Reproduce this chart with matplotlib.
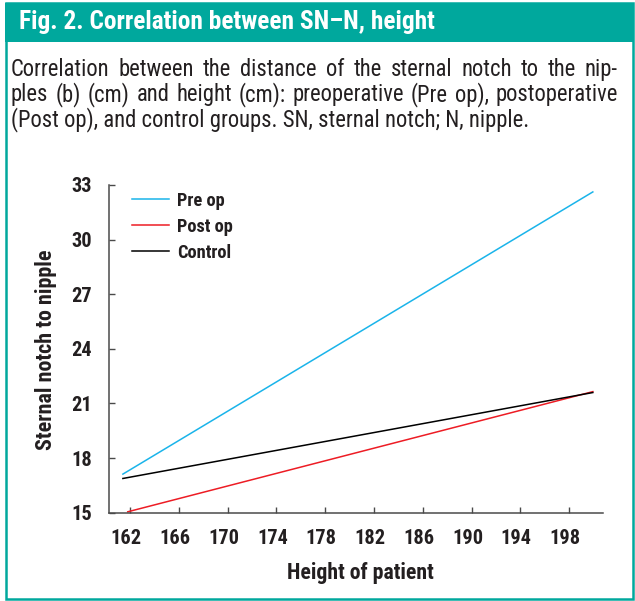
import matplotlib
matplotlib.use("Agg")
import matplotlib.pyplot as plt
from matplotlib import font_manager as fm
from matplotlib.patches import Rectangle
import matplotlib.transforms as mtrans

# ---------------- data ----------------
title_text = "Fig. 2. Correlation between SN\u2013N, height"
caption_lines = [
    "Correlation between the distance of the sternal notch to the nip-",
    "ples (b) (cm) and height (cm): preoperative (Pre op), postoperative",
    "(Post op), and control groups. SN, sternal notch; N, nipple.",
]
x_label = "Height of patient"
y_label = "Sternal notch to nipple"
x_ticks = [162, 166, 170, 174, 178, 182, 186, 190, 194, 198]
y_ticks = [15, 18, 21, 24, 27, 30, 33]
series_names = ["Pre op", "Post op", "Control"]
pre_op_height = [161.4, 199.95]
pre_op_sn = [17.12, 32.62]
post_op_height = [161.8, 199.95]
post_op_sn = [15.05, 21.65]
control_height = [161.4, 199.95]
control_sn = [16.88, 21.6]

# ---------------- style ----------------
W, H, DPI = 635, 601, 100
TEAL = "#00A89D"
CYAN = "#1AB4EA"
RED = "#ED1C24"
TXT = "#231F20"

available = {f.name for f in fm.fontManager.ttflist}


def pick(cands):
    for c in cands:
        if c in available:
            return c
    return "DejaVu Sans"


FAM = pick(["Roboto Condensed", "Liberation Sans Narrow", "Open Sans Condensed",
            "Noto Sans Condensed", "Roboto", "Lato"])

plt.rcParams["font.family"] = [FAM, "DejaVu Sans"]

fig = plt.figure(figsize=(W / DPI, H / DPI), dpi=DPI)
fig.patch.set_facecolor("white")
renderer = fig.canvas.get_renderer()


def fx(px):
    return px / W


def fy(py):
    return 1 - py / H


def text_width(s, size, weight="normal"):
    t = fig.text(0, 0, s, fontsize=size, fontweight=weight)
    w = t.get_window_extent(renderer).width
    t.remove()
    return w


def fit_size(s, target_px, weight="normal"):
    w = text_width(s, 10, weight)
    return 10 * target_px / w


# frame and header
fig.patches.append(Rectangle((fx(5.5), fy(599)), fx(633) - fx(5.5), fy(3) - fy(599),
                             transform=fig.transFigure, facecolor="none",
                             edgecolor=TEAL, linewidth=1.8, zorder=0))
fig.patches.append(Rectangle((fx(4.5), fy(42)), fx(634) - fx(4.5), fy(3) - fy(42),
                             transform=fig.transFigure, facecolor=TEAL,
                             edgecolor="none", zorder=1))

# title
ts = fit_size(title_text, 416, "bold")
fig.text(fx(19), fy(29), title_text, color="white", fontsize=ts,
         fontweight="bold", va="baseline", ha="left", zorder=2)

# caption (justified)
cs = fit_size(caption_lines[2], 517, "normal")
for ln in caption_lines[:2]:
    cs = min(cs, fit_size(ln, 604, "normal"))
baselines = [76, 101, 126]
for i, ln in enumerate(caption_lines):
    y = fy(baselines[i])
    if i < 2:
        words = ln.split(" ")
        widths = [text_width(w, cs) for w in words]
        gap = (618 - 11 - sum(widths)) / (len(words) - 1)
        x = 11
        for w, wd in zip(words, widths):
            fig.text(fx(x), y, w, fontsize=cs, color=TXT, va="baseline", ha="left")
            x += wd + gap
    else:
        fig.text(fx(11), y, ln, fontsize=cs, color=TXT, va="baseline", ha="left")

# axes
ax_l, ax_r, ax_b, ax_t = 109, 602.7, 512.7, 185
ax = fig.add_axes([fx(ax_l), fy(ax_b), (ax_r - ax_l) / W, (ax_b - ax_t) / H])
ax.set_xlim(160.26, 200.76)
ax.set_ylim(15, 33)

ax.plot(pre_op_height, pre_op_sn, color=CYAN, lw=1.1, label=series_names[0])
ax.plot(post_op_height, post_op_sn, color=RED, lw=1.1, label=series_names[1])
ax.plot(control_height, control_sn, color="black", lw=1.1, label=series_names[2])

for s in ["top", "right"]:
    ax.spines[s].set_visible(False)
for s in ["left", "bottom"]:
    ax.spines[s].set_color("#4a4a4a")
    ax.spines[s].set_linewidth(1.1)

tick_fs = fit_size("198", 31, "bold")
ax.set_xticks(x_ticks)
ax.set_yticks(y_ticks)
ax.tick_params(direction="in", length=4.3, width=1.0, color="#4a4a4a",
               labelsize=tick_fs, labelcolor=TXT)
ax.tick_params(axis="x", pad=11.5)
ax.tick_params(axis="y", pad=12.5)
for lab in ax.get_xticklabels() + ax.get_yticklabels():
    lab.set_fontweight("bold")
off = mtrans.ScaledTranslation(-4 / DPI, 0, fig.dpi_scale_trans)
for lab in ax.get_xticklabels():
    lab.set_transform(lab.get_transform() + off)

xs = fit_size(x_label, 146, "bold")
fig.text(fx(360), fy(579), x_label, fontsize=xs, fontweight="bold", color=TXT,
         ha="center", va="baseline")
ys = fit_size(y_label, 199, "bold")
fig.text(fx(52), fy(349.5), y_label, fontsize=ys, fontweight="bold", color=TXT,
         ha="center", va="baseline", rotation=90, rotation_mode="anchor")

leg_fs = fit_size("Control", 54, "bold")
em = leg_fs * DPI / 72
leg = ax.legend(loc="upper left", bbox_to_anchor=(fx(132), fy(191.5)),
                bbox_transform=fig.transFigure, frameon=False,
                prop={"weight": "bold", "size": leg_fs},
                handlelength=37 / em, handletextpad=8 / em,
                labelspacing=0.44, borderpad=0, borderaxespad=0)
for t in leg.get_texts():
    t.set_color(TXT)

fig.savefig("out.png", dpi=DPI, facecolor="white")
